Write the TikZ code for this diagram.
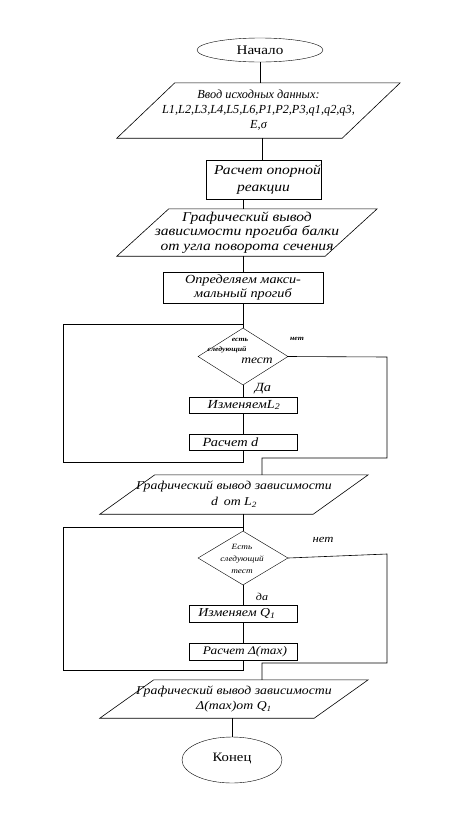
\documentclass[tikz,border=0pt]{standalone}
\usepackage{fontspec}
\setmainfont{Liberation Serif}
\newfontfamily\wf[FakeStretch=1.15]{Liberation Serif}
\newfontfamily\wfi[FakeStretch=1.15]{Liberation Serif Italic}
\newfontfamily\nfi{Liberation Serif Italic}
\newfontfamily\wfbi[FakeStretch=1.15]{Liberation Serif Bold Italic}
\usetikzlibrary{shapes.geometric,calc}
\newcommand{\fs}[1]{\fontsize{#1}{#1}\selectfont}
\tikzset{
  box/.style={draw, rectangle, inner sep=0pt, align=center},
  term/.style={draw, ellipse, inner sep=0pt},
  pbox/.style={rectangle, inner sep=0pt, align=center},
  dia/.style={draw, diamond, inner sep=0pt},
  lbl/.style={inner sep=0pt},
  ln/.style={draw, line width=0.6pt}
}
\newcommand{\parab}[2]{%
  \draw[line width=0.6pt] ($(#1.north west)+(#2,0)$) -- (#1.north east) -- ($(#1.south east)-(#2,0)$) -- (#1.south west) -- cycle;}
\begin{document}
\begin{tikzpicture}[x=1pt,y=-1pt]
\useasboundingbox (0,0) rectangle (465,817);
% nodes
\node[term, minimum width=126pt, minimum height=24pt, font=\wf\fs{13.2}] (start) at (260,50) {Начало};
\node[pbox, minimum width=283pt, minimum height=55pt, font=\nfi\fontsize{12.3}{15}\selectfont] (p1) at (258.5,110.5)
  {Ввод исходных данных:\\L1,L2,L3,L4,L5,L6,P1,P2,P3,q1,q2,q3,\\E,σ};
\node[box, minimum width=113pt, minimum height=39pt, font=\wfi\fontsize{13.5}{17}\selectfont] (b1) at (263.5,179.5) {\hspace*{8pt}Расчет опорной\\реакции};
\node[pbox, minimum width=260pt, minimum height=47pt, font=\wfi\fontsize{13.5}{14.5}\selectfont] (p2) at (247,232.5)
  {Графический вывод\\зависимости прогиба балки\\от угла поворота сечения};
\node[box, minimum width=160pt, minimum height=31pt, font=\wfi\fontsize{12.4}{14}\selectfont] (b2) at (243,287.5) {Определяем макси-\\мальный прогиб};
\node[dia, minimum width=90pt, minimum height=57pt] (d1) at (243,356.5) {};
\node[lbl, font=\wfbi\fs{6.8}] (d1a) at (240,340) {есть};
\node[lbl, font=\wfbi\fs{6.8}] (d1b) at (227,350) {следующий};
\node[lbl, font=\wfi\fs{11.8}] (d1c) at (257,361) {тест};
\node[lbl, font=\wfbi\fs{6.8}] (no1) at (297,339) {нет};
\node[lbl, font=\wfi\fs{12.5}] (yes1) at (263,389) {Да};
\node[box, minimum width=108pt, minimum height=16pt, font=\wfi\fs{12.3}] (b3) at (243,405) {\hspace*{2pt}ИзменяемL\textsubscript{2}};
\node[box, minimum width=108pt, minimum height=16pt, font=\wfi\fs{12.5}] (b4) at (243,442) {\hspace*{-25pt}Расчет d};
\node[pbox, minimum width=268pt, minimum height=39pt, font=\wfi\fontsize{12}{16}\selectfont] (p3) at (234,494.5)
  {Графический вывод зависимости\\d\enspace от L\textsubscript{2}};
\node[dia, minimum width=90pt, minimum height=54pt] (d2) at (243,558) {};
\node[lbl, align=center, font=\wfi\fontsize{8}{12}\selectfont] (d2t) at (242,559) {Есть\\следующий\\тест};
\node[lbl, font=\wfi\fs{11}] (no2) at (323,540) {нет};
\node[lbl, font=\wfi\fs{10.5}] (yes2) at (262,597) {да};
\node[box, minimum width=108pt, minimum height=17pt, font=\wfi\fs{12.1}] (b5) at (243,613.5) {\hspace*{-12pt}Изменяем Q\textsubscript{1}};
\node[box, minimum width=108pt, minimum height=17pt, font=\wfi\fs{11.6}] (b6) at (243,651.5) {\hspace*{4pt}Расчет Δ(max)};
\node[pbox, minimum width=268pt, minimum height=38pt, font=\wfi\fontsize{12}{15}\selectfont] (p4) at (234,699)
  {Графический вывод зависимости\\Δ(max)от Q\textsubscript{1}};
\node[term, minimum width=100pt, minimum height=46pt, font=\wf\fs{12.8}] (end) at (232,760) {\raisebox{6pt}{Конец}};
% parallelograms
\parab{p1}{58}
\parab{p2}{52}
\parab{p3}{55}
\parab{p4}{54}
% loop coordinates
\coordinate (L1t) at (63,324);
\coordinate (L1b) at (63,462);
\coordinate (R1t) at (387,357);
\coordinate (R1b) at (387,458);
\coordinate (M1) at (262,458);
\coordinate (L2t) at (63,527);
\coordinate (L2b) at (63,670);
\coordinate (R2t) at (387,554);
\coordinate (R2b) at (387,663);
\coordinate (M2) at (262,663);
% connectors
\draw[ln] (start.south) -- (start.south |- p1.north);
\draw[ln] (262,138) -- (262,160);
\draw[ln] (b1.south -| b2.north) -- (b2.north |- p2.north);
\draw[ln] (p2.south -| b2.north) -- (b2.north);
\draw[ln] (b2.south) -- (d1.north);
\draw[ln] (d1.south) -- (b3.north);
\draw[ln] (b3.south) -- (b4.north);
\draw[ln] (b4.south) -- (b4.south |- L1b) -- (L1b) -- (L1t) -- (L1t -| d1.north);
\draw[ln] (d1.east) -- (R1t) -- (R1b) -- (M1) -- (M1 |- p3.north);
\draw[ln] (p3.south -| d2.north) -- (d2.north);
\draw[ln] (L2t -| d2.north) -- (L2t) -- (L2b) -- (L2b -| b6.south) -- (b6.south);
\draw[ln] (d2.south) -- (b5.north);
\draw[ln] (b5.south) -- (b6.north);
\draw[ln] (d2.east) -- (R2t) -- (R2b) -- (M2) -- (M2 |- p4.north);
\draw[ln] (p4.south -| end.north) -- (end.north);
\end{tikzpicture}
\end{document}
